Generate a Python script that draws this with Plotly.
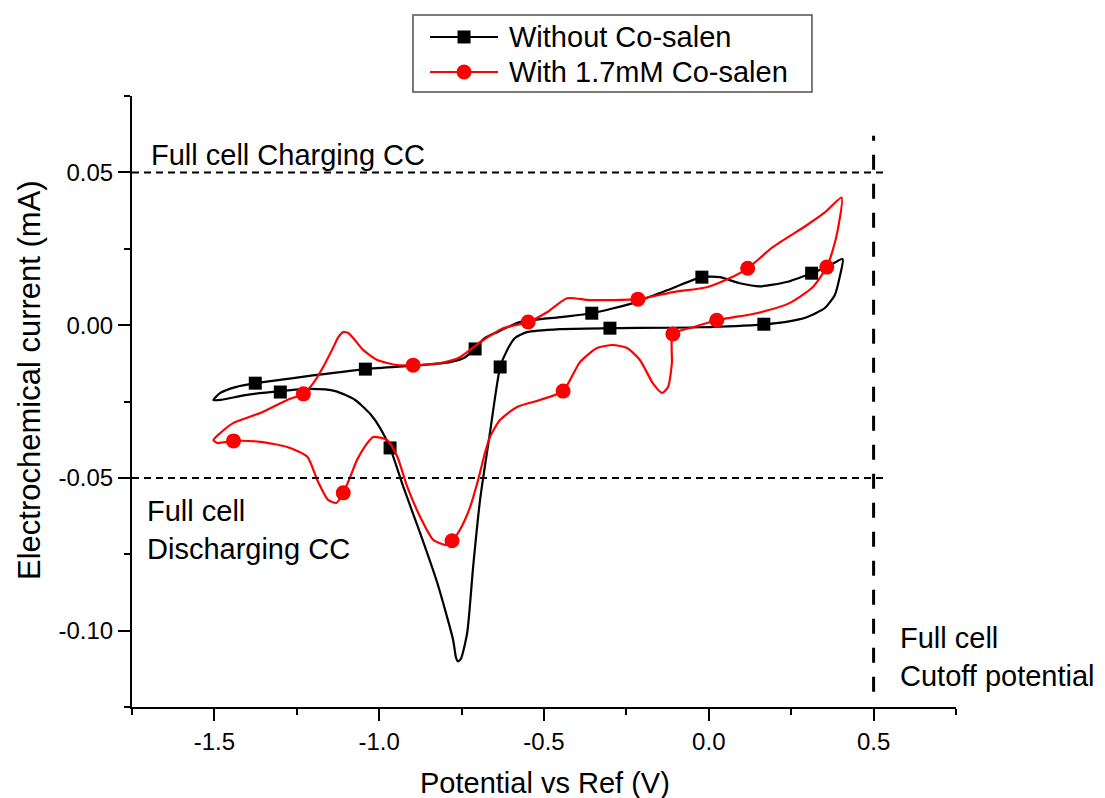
import plotly.graph_objects as go

# ---- Data ----
# Without Co-salen: closed CV loop, starting at the left vertex, anodic branch then return branch
black_x = [-1.503, -1.482, -1.436, -1.376, -1.239, -1.042, -0.876, -0.785, -0.739, -0.709,
           -0.679, -0.642, -0.573, -0.452, -0.355, -0.230, -0.127, -0.021, 0.033, 0.094,
           0.155, 0.236, 0.312, 0.358, 0.406,
           0.397, 0.382, 0.352, 0.297, 0.230, 0.170, -0.027, -0.300, -0.452, -0.552,
           -0.588, -0.612, -0.633, -0.664, -0.694, -0.715, -0.733, -0.752, -0.761, -0.767,
           -0.776, -0.824, -0.876, -0.927, -0.967, -0.997, -1.027, -1.073, -1.133, -1.209,
           -1.300, -1.406, -1.482, -1.503]
black_y = [-0.0245, -0.0222, -0.0203, -0.0190, -0.0170, -0.0144, -0.0131, -0.0121, -0.0105, -0.0075,
           -0.0042, -0.0023, 0.0010, 0.0026, 0.0039, 0.0072, 0.0114, 0.0157, 0.0157, 0.0137,
           0.0127, 0.0141, 0.0170, 0.0190, 0.0216,
           0.0157, 0.0098, 0.0056, 0.0026, 0.0010, 0.0003, -0.0007, -0.0010, -0.0013, -0.0023,
           -0.0042, -0.0082, -0.0137, -0.0353, -0.0572, -0.0791, -0.1007, -0.1092, -0.1101, -0.1088,
           -0.1029, -0.0843, -0.0680, -0.0529, -0.0402, -0.0337, -0.0291, -0.0245, -0.0216, -0.0209,
           -0.0216, -0.0229, -0.0245, -0.0245]
black_mx = [-1.376, -1.300, -1.042, -0.967, -0.709, -0.633, -0.355, -0.300, -0.021, 0.167, 0.312]
black_my = [-0.0190, -0.0219, -0.0144, -0.0402, -0.0078, -0.0137, 0.0039, -0.0010, 0.0157, 0.0003, 0.0170]

# With 1.7mM Co-salen
red_x = [-1.503, -1.482, -1.442, -1.361, -1.279, -1.230, -1.200, -1.170, -1.139, -1.124,
         -1.109, -1.094, -1.079, -1.048, -1.006, -0.945, -0.897, -0.815, -0.755, -0.694,
         -0.624, -0.548, -0.491, -0.430, -0.361, -0.215, -0.109, -0.006, 0.064, 0.118,
         0.194, 0.297, 0.352, 0.403,
         0.391, 0.376, 0.358, 0.315, 0.245, 0.145, 0.024, -0.048, -0.109, -0.112,
         -0.124, -0.142, -0.170, -0.209, -0.248, -0.291, -0.339, -0.391, -0.442, -0.512,
         -0.582, -0.633, -0.664, -0.679, -0.700, -0.724, -0.755, -0.779, -0.800, -0.836,
         -0.876, -0.915, -0.945, -0.976, -1.018, -1.036, -1.067, -1.088, -1.109, -1.130,
         -1.155, -1.188, -1.218, -1.279, -1.361, -1.442, -1.491, -1.503]
red_y = [-0.0376, -0.0353, -0.0320, -0.0288, -0.0245, -0.0225, -0.0190, -0.0137, -0.0072, -0.0039,
         -0.0023, -0.0026, -0.0042, -0.0082, -0.0114, -0.0131, -0.0131, -0.0124, -0.0105, -0.0056,
         -0.0010, 0.0010, 0.0042, 0.0088, 0.0082, 0.0085, 0.0108, 0.0124, 0.0154, 0.0186,
         0.0255, 0.0327, 0.0369, 0.0418,
         0.0310, 0.0245, 0.0190, 0.0124, 0.0072, 0.0039, 0.0016, -0.0007, -0.0029, -0.0124,
         -0.0203, -0.0222, -0.0190, -0.0114, -0.0075, -0.0065, -0.0075, -0.0121, -0.0216, -0.0245,
         -0.0268, -0.0310, -0.0366, -0.0418, -0.0507, -0.0595, -0.0670, -0.0706, -0.0719, -0.0703,
         -0.0627, -0.0529, -0.0431, -0.0376, -0.0366, -0.0386, -0.0441, -0.0497, -0.0549, -0.0582,
         -0.0572, -0.0507, -0.0431, -0.0399, -0.0382, -0.0379, -0.0386, -0.0376]
red_mx = [-1.442, -1.230, -1.109, -0.897, -0.779, -0.548, -0.442, -0.215, -0.109, 0.024, 0.118, 0.358]
red_my = [-0.0379, -0.0225, -0.0549, -0.0131, -0.0706, 0.0010, -0.0216, 0.0085, -0.0029, 0.0016, 0.0186, 0.0190]

series_names = ["Without Co-salen", "With 1.7mM Co-salen"]

# Reference lines
cc_levels = [0.05, -0.05]
cc_x_span = [-1.75, 0.535]
cutoff_x = 0.5
cutoff_y_span = [-0.12, 0.062]

x_tickvals = [-1.5, -1.0, -0.5, 0.0, 0.5]
x_ticktext = ["-1.5", "-1.0", "-0.5", "0.0", "0.5"]
x_minor = [-1.75, -1.25, -0.75, -0.25, 0.25, 0.75]
y_tickvals = [0.05, 0.0, -0.05, -0.10]
y_ticktext = ["0.05", "0.00", "-0.05", "-0.10"]
y_minor = [0.075, 0.025, -0.025, -0.075, -0.125]

FONT = "Arial, Liberation Sans, sans-serif"
RED = "#FF0000"
LW = 2.2

fig = go.Figure()

fig.add_trace(go.Scatter(x=black_x, y=black_y, mode="lines", name=series_names[0],
                         line=dict(color="black", width=LW, shape="spline", smoothing=0.6),
                         showlegend=False, hoverinfo="skip"))
fig.add_trace(go.Scatter(x=black_mx, y=black_my, mode="markers", name=series_names[0],
                         marker=dict(symbol="square", size=13, color="black"),
                         showlegend=False))
fig.add_trace(go.Scatter(x=red_x, y=red_y, mode="lines", name=series_names[1],
                         line=dict(color=RED, width=LW, shape="spline", smoothing=0.6),
                         showlegend=False, hoverinfo="skip"))
fig.add_trace(go.Scatter(x=red_mx, y=red_my, mode="markers", name=series_names[1],
                         marker=dict(symbol="circle", size=15, color=RED),
                         showlegend=False))

for lvl in cc_levels:
    fig.add_shape(type="line", xref="x", yref="y", x0=cc_x_span[0], x1=cc_x_span[1],
                  y0=lvl, y1=lvl, line=dict(color="black", width=2, dash="7px,5px"))
fig.add_shape(type="line", xref="x", yref="y", x0=cutoff_x, x1=cutoff_x,
              y0=cutoff_y_span[0], y1=cutoff_y_span[1],
              line=dict(color="black", width=3, dash="15px,14px"))

# ---- Legend drawn by hand (paper coordinates, above the plot area) ----
leg_box = dict(x0=0.3410, x1=0.8252, y0=1.0065, y1=1.1326)
leg_rows_y = [1.0966, 1.0393]
leg_line_x = [0.3617, 0.4442]
leg_text_x = 0.4551
fig.add_shape(type="rect", xref="paper", yref="paper", **leg_box,
              line=dict(color="#505050", width=1.5), fillcolor="rgba(0,0,0,0)", layer="below")
colors = ["black", RED]
shape_types = ["rect", "circle"]
half_sizes = [6.5, 7.5]
leg_marker_x = (leg_line_x[0] + leg_line_x[1]) / 2
for i in range(2):
    fig.add_shape(type="line", xref="paper", yref="paper", x0=leg_line_x[0], x1=leg_line_x[1],
                  y0=leg_rows_y[i], y1=leg_rows_y[i], line=dict(color=colors[i], width=LW))
    fig.add_shape(type=shape_types[i], xref="paper", yref="paper",
                  xsizemode="pixel", ysizemode="pixel",
                  xanchor=leg_marker_x, yanchor=leg_rows_y[i],
                  x0=-half_sizes[i], x1=half_sizes[i], y0=-half_sizes[i], y1=half_sizes[i],
                  fillcolor=colors[i], line=dict(width=0))
    fig.add_annotation(x=leg_text_x, y=leg_rows_y[i], xref="paper", yref="paper", text=series_names[i],
                       showarrow=False, xanchor="left", yanchor="middle",
                       font=dict(family=FONT, size=29, color="black"))

ann_font = dict(family=FONT, size=29, color="black")
fig.add_annotation(x=-1.697, y=0.0556, xref="x", yref="y", text="Full cell Charging CC",
                   showarrow=False, xanchor="left", yanchor="middle", font=ann_font)
fig.add_annotation(x=-1.712, y=-0.0671, xref="x", yref="y", text="Full cell<br>Discharging CC",
                   showarrow=False, xanchor="left", yanchor="middle", align="left", font=ann_font)
fig.add_annotation(x=0.573, y=-0.1085, xref="x", yref="y", text="Full cell<br>Cutoff potential",
                   showarrow=False, xanchor="left", yanchor="middle", align="left", font=ann_font)

# axis titles as annotations
fig.add_annotation(x=0.5012, y=-0.1244, xref="paper", yref="paper", text="Potential vs Ref (V)",
                   showarrow=False, xanchor="center", yanchor="middle", font=ann_font)
fig.add_annotation(x=-0.1238, y=0.5352, xref="paper", yref="paper", text="Electrochemical current (mA)",
                   showarrow=False, xanchor="center", yanchor="middle", textangle=-90,
                   font=dict(family=FONT, size=31, color="black"))

# page body has an 8px margin, so the figure is 8px smaller and margins shifted
fig.update_layout(
    width=1097, height=790,
    margin=dict(l=124, r=149, t=88, b=91),
    paper_bgcolor="white", plot_bgcolor="white",
    font=dict(family=FONT, color="black"),
    showlegend=False,
)
fig.update_xaxes(range=[-1.75, 0.75], showgrid=False, zeroline=False,
                 showline=True, linecolor="black", linewidth=2,
                 ticks="outside", ticklen=12, tickwidth=2, tickcolor="black",
                 tickvals=x_tickvals, ticktext=x_ticktext,
                 tickfont=dict(family=FONT, size=24, color="black"),
                 minor=dict(tickvals=x_minor, ticks="outside", ticklen=6, tickwidth=2, tickcolor="black"))
fig.update_yaxes(range=[-0.125, 0.075], showgrid=False, zeroline=False,
                 showline=True, linecolor="black", linewidth=2,
                 ticks="outside", ticklen=12, tickwidth=2, tickcolor="black",
                 tickvals=y_tickvals, ticktext=y_ticktext,
                 tickfont=dict(family=FONT, size=24, color="black"),
                 minor=dict(tickvals=y_minor, ticks="outside", ticklen=6, tickwidth=2, tickcolor="black"))

fig.write_html("out.html")
